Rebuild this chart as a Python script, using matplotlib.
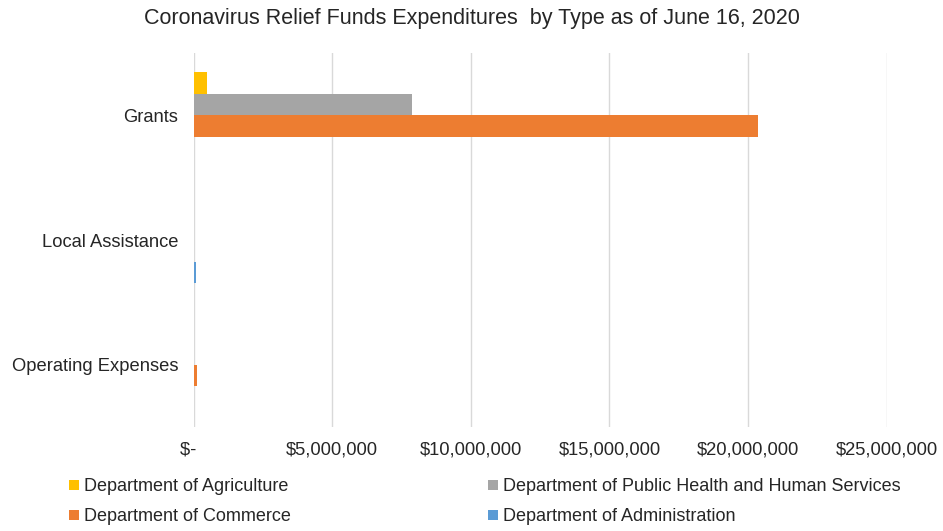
import matplotlib.pyplot as plt
from matplotlib.patches import Patch
from matplotlib.ticker import FuncFormatter

plt.rcParams['font.family'] = ['Liberation Sans', 'DejaVu Sans']

# categories bottom to top (matplotlib draws y upward)
categories = ["Operating Expenses", "Local Assistance", "Grants"]

administration = [0, 72000, 0]
commerce = [130000, 0, 20350000]
public_health = [0, 0, 7870000]
agriculture = [0, 0, 480000]

series = [
    ("Department of Administration", administration, "#5B9BD5"),
    ("Department of Commerce", commerce, "#ED7D31"),
    ("Department of Public Health and Human Services", public_health, "#A5A5A5"),
    ("Department of Agriculture", agriculture, "#FFC000"),
]

fig = plt.figure(figsize=(9.43, 5.31), dpi=100)
ax = fig.add_axes([0.2054, 0.195, 0.7349, 0.706])

h = 0.172
y = list(range(len(categories)))
for i, (name, vals, col) in enumerate(series):
    off = (i - 1.5) * h
    ax.barh([p + off for p in y], vals, height=h, color=col, label=name, zorder=3)

ax.set_xlim(0, 25000000)
ax.set_ylim(-0.5, 2.5)
ax.set_xticks(range(0, 25000001, 5000000))
# accounting style: zero shows as "$-" with trailing padding
ax.xaxis.set_major_formatter(FuncFormatter(lambda v, p: "$-  " if v == 0 else "${:,.0f}".format(v)))
ax.set_yticks(y)
ax.set_yticklabels(categories)

ax.grid(axis="x", color="#D9D9D9", linewidth=1, zorder=0)
for s in ax.spines.values():
    s.set_visible(False)
ax.tick_params(axis="both", length=0, labelsize=13.2, colors="#262626")
ax.tick_params(axis="x", pad=10)
ax.tick_params(axis="y", pad=11)

fig.text(0.5, 0.966, "Coronavirus Relief Funds Expenditures  by Type as of June 16, 2020",
         ha="center", va="center", fontsize=15.5, color="#262626")

# legend: Excel order, filled column by column
order = [3, 1, 2, 0]
handles = [Patch(facecolor=series[i][2], label=series[i][0]) for i in order]
fig.legend(handles=handles, ncol=2, loc="upper left", bbox_to_anchor=(0.0658, 0.1127),
           frameon=False, fontsize=13, handlelength=0.55, handleheight=0.55,
           handletextpad=0.25, columnspacing=10.95, labelspacing=0.72,
           labelcolor="#262626", borderaxespad=0)

fig.savefig("out.png", dpi=100)
